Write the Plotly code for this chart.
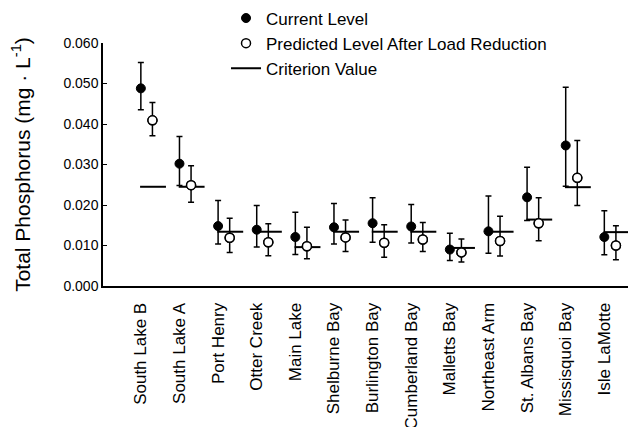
import plotly.graph_objects as go

sites = ["South Lake B", "South Lake A", "Port Henry", "Otter Creek", "Main Lake",
         "Shelburne Bay", "Burlington Bay", "Cumberland Bay", "Malletts Bay",
         "Northeast Arm", "St. Albans Bay", "Missisquoi Bay", "Isle LaMotte"]
current = [0.0488, 0.0302, 0.0148, 0.0139, 0.0121, 0.0145, 0.0155, 0.0147, 0.0090, 0.0135, 0.0219, 0.0347, 0.0121]
current_hi = [0.0552, 0.0369, 0.0211, 0.0199, 0.0182, 0.0204, 0.0218, 0.0201, 0.0130, 0.0222, 0.0293, 0.0491, 0.0186]
current_lo = [0.0435, 0.0248, 0.0104, 0.0096, 0.0078, 0.0104, 0.0108, 0.0106, 0.0063, 0.0081, 0.0162, 0.0246, 0.0077]
predicted = [0.0409, 0.0249, 0.0119, 0.0108, 0.0098, 0.0120, 0.0107, 0.0115, 0.0083, 0.0111, 0.0155, 0.0267, 0.0100]
predicted_hi = [0.0453, 0.0297, 0.0167, 0.0154, 0.0145, 0.0163, 0.0151, 0.0157, 0.0116, 0.0172, 0.0218, 0.0359, 0.0149]
predicted_lo = [0.0371, 0.0207, 0.0083, 0.0075, 0.0067, 0.0085, 0.0071, 0.0085, 0.0059, 0.0074, 0.0112, 0.0199, 0.0065]
criterion = [0.0245, 0.0245, 0.0134, 0.0134, 0.0096, 0.0134, 0.0134, 0.0134, 0.0094, 0.0134, 0.0164, 0.0244, 0.0133]
y_ticks = [0.000, 0.010, 0.020, 0.030, 0.040, 0.050, 0.060]

FONT = "Arial, Liberation Sans, sans-serif"
idx = list(range(len(sites)))
pred_off = 0.3
crit_start, crit_end = -0.02, 0.65

fig = go.Figure()

cx, cy = [], []
for i, c in zip(idx, criterion):
    cx += [i + crit_start, i + crit_end, None]
    cy += [c, c, None]

fig.add_trace(go.Scatter(
    x=idx, y=current, mode="markers", name="Current Level",
    marker=dict(symbol="circle", size=9, color="black", line=dict(color="black", width=1)),
    error_y=dict(type="data", symmetric=False,
                 array=[h - v for h, v in zip(current_hi, current)],
                 arrayminus=[v - l for v, l in zip(current, current_lo)],
                 color="black", thickness=1.5, width=3),
))
fig.add_trace(go.Scatter(
    x=[i + pred_off for i in idx], y=predicted, mode="markers",
    name="Predicted Level After Load Reduction",
    marker=dict(symbol="circle", size=9, color="white", line=dict(color="black", width=1.5)),
    error_y=dict(type="data", symmetric=False,
                 array=[h - v for h, v in zip(predicted_hi, predicted)],
                 arrayminus=[v - l for v, l in zip(predicted, predicted_lo)],
                 color="black", thickness=1.5, width=3),
))
fig.add_trace(go.Scatter(
    x=cx, y=cy, mode="lines", name="Criterion Value",
    line=dict(color="black", width=2), connectgaps=False,
))
fig.add_trace(go.Scatter(
    x=[i + pred_off for i in idx], y=predicted, mode="markers", showlegend=False,
    marker=dict(symbol="circle", size=9, color="white", line=dict(color="black", width=1.5)),
    hoverinfo="skip",
))

fig.update_layout(
    width=628, height=419,
    margin=dict(l=95, r=0, t=35, b=141, autoexpand=False),
    paper_bgcolor="white", plot_bgcolor="white",
    font=dict(family=FONT, color="black"),
    showlegend=True,
    legend=dict(x=0.2308, y=1.175, xanchor="left", yanchor="top",
                bgcolor="rgba(0,0,0,0)", font=dict(size=17, family=FONT),
                itemwidth=30, traceorder="normal"),
    xaxis=dict(range=[-0.98, 12.82], tickmode="array", tickvals=idx, ticktext=sites,
               tickangle=-90, showgrid=False, zeroline=False, showline=True,
               linecolor="black", linewidth=2, ticks="", ticklabelstandoff=8,
               automargin=False, tickfont=dict(size=17, family=FONT)),
    yaxis=dict(range=[0, 0.060], tickmode="array", tickvals=y_ticks,
               ticktext=[f"{v:.3f}" for v in y_ticks],
               showgrid=False, zeroline=False, showline=True, linecolor="black",
               linewidth=1.5, ticks="inside", ticklen=4, tickwidth=1, tickcolor="black",
               automargin=False, tickfont=dict(size=14, family=FONT),
               title=dict(text="Total Phosphorus (mg · L<sup>-1</sup>)",
                          font=dict(size=21, family=FONT), standoff=38)),
)

fig.write_html("out.html")
